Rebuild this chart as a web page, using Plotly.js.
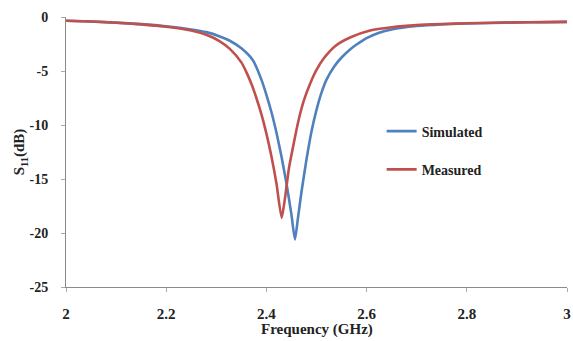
<!DOCTYPE html>
<html>
<head>
<meta charset="utf-8">
<script src="https://cdn.plot.ly/plotly-3.0.1.min.js"></script>
<style>html,body{margin:0;padding:0;background:#fff;}#chart{width:573px;height:341px;}</style>
</head>
<body>
<div id="chart"></div>
<script>
// Simulated S11 (blue)
var simFreq = [2.00,2.05,2.10,2.15,2.20,2.25,2.28,2.307,2.327,2.35,2.373,2.39,2.40,2.41,2.42,2.43,2.44,2.45,2.457,2.463,2.47,2.48,2.49,2.50,2.51,2.52,2.535,2.55,2.567,2.58,2.60,2.625,2.65,2.70,2.75,2.80,2.85,2.90,2.95,3.00];
var simS11 = [-0.35,-0.42,-0.52,-0.66,-0.86,-1.15,-1.4,-1.8,-2.2,-2.9,-4.0,-5.8,-7.2,-8.8,-10.7,-12.9,-15.4,-18.3,-20.6,-18.6,-16.2,-13.2,-10.6,-8.6,-7.0,-5.8,-4.6,-3.75,-3.0,-2.55,-1.95,-1.45,-1.15,-0.84,-0.68,-0.6,-0.55,-0.5,-0.48,-0.45];
// Measured S11 (red)
var measFreq = [2.00,2.05,2.10,2.15,2.20,2.25,2.28,2.307,2.327,2.35,2.36,2.371,2.38,2.39,2.40,2.41,2.42,2.4305,2.437,2.445,2.455,2.465,2.475,2.487,2.50,2.515,2.537,2.567,2.607,2.65,2.70,2.75,2.80,2.85,2.90,2.95,3.00];
var measS11 = [-0.35,-0.42,-0.53,-0.68,-0.9,-1.25,-1.65,-2.25,-2.95,-4.2,-5.1,-6.3,-7.5,-9.0,-10.8,-12.9,-15.4,-18.6,-16.8,-14.0,-11.6,-9.4,-7.7,-6.2,-4.9,-3.8,-2.7,-1.9,-1.25,-0.95,-0.75,-0.65,-0.58,-0.53,-0.5,-0.47,-0.45];
var xTicks = [2,2.2,2.4,2.6,2.8,3];
var xTickText = ['2','2.2','2.4','2.6','2.8','3'];
var yTicks = [0,-5,-10,-15,-20,-25];
var yTickText = ['0','-5','-10','-15','-20','-25'];

var serif = 'Liberation Serif, Times New Roman, serif';
var traces = [
  {x: simFreq, y: simS11, name: '<b>Simulated</b>', mode: 'lines', legendgroup: 'a',
   line: {color: '#4F81BD', width: 2.6, shape: 'spline', smoothing: 0.6}},
  {x: measFreq, y: measS11, name: '<b>Measured</b>', mode: 'lines', legendgroup: 'b',
   line: {color: '#C0504D', width: 2.6, shape: 'spline', smoothing: 0.6}}
];
var layout = {
  width: 573, height: 341,
  margin: {l: 66, r: 6, t: 17, b: 54},
  paper_bgcolor: '#fff', plot_bgcolor: '#fff',
  showlegend: true,
  font: {family: serif, color: '#1a1a1a'},
  legend: {x: 0.63, y: 0.635, xanchor: 'left', yanchor: 'top', bgcolor: 'rgba(0,0,0,0)',
           font: {family: serif, size: 14, color: '#222'}, tracegroupgap: 17, traceorder: 'grouped'},
  xaxis: {range: [2, 3], tickvals: xTicks, ticktext: xTickText, showgrid: false, zeroline: false,
          showline: true, linecolor: '#8a8a8a', linewidth: 1, ticks: 'outside', ticklen: 4, tickcolor: '#aaa',
          ticklabelstandoff: 9,
          tickfont: {family: serif, size: 15, color: '#222', weight: 'bold'}},
  yaxis: {range: [-25, 0], tickvals: yTicks, ticktext: yTickText, showgrid: false, zeroline: false,
          showline: true, linecolor: '#8a8a8a', linewidth: 1, ticks: 'outside', ticklen: 4, tickcolor: '#aaa',
          ticklabelstandoff: 10,
          tickfont: {family: serif, size: 14, color: '#222', weight: 'bold'},
          title: {text: '<b>S<sub>11</sub>(dB)</b>', font: {family: serif, size: 15, color: '#222'}, standoff: 0}},
  annotations: [{text: '<b>Frequency (GHz)</b>', xref: 'paper', yref: 'paper', x: 0.5, y: -0.118,
                 xanchor: 'center', yanchor: 'top', showarrow: false,
                 font: {family: serif, size: 15, color: '#222'}}]
};
Plotly.newPlot('chart', traces, layout, {displayModeBar: false, staticPlot: true});
</script>
</body>
</html>
